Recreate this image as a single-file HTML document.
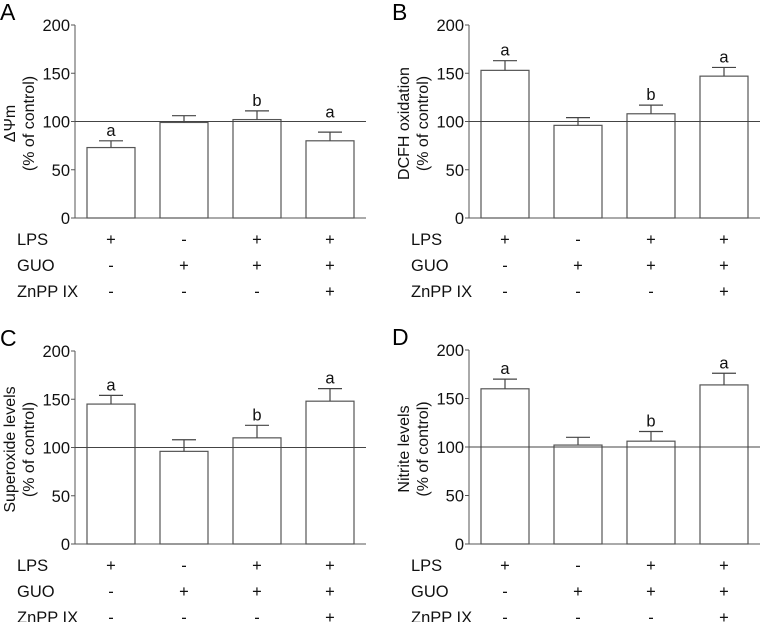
<!DOCTYPE html>
<html><head><meta charset="utf-8"><style>
body{margin:0;background:#fff}
svg{display:block;font-family:"Liberation Sans",Arial,sans-serif}
</style></head><body>
<svg id="chart" width="761" height="622" viewBox="0 0 761 622" xmlns="http://www.w3.org/2000/svg"></svg>
<script>
const panelLetters = ["A","B","C","D"];
const panelTitles = [["ΔΨm","(% of control)"],["DCFH oxidation","(% of control)"],["Superoxide levels","(% of control)"],["Nitrite levels","(% of control)"]];
const valuesA = [73, 99, 102, 80];
const errorsA = [7, 7, 9, 9];
const valuesB = [153, 96, 108, 147];
const errorsB = [10, 8, 9, 9];
const valuesC = [145, 96, 110, 148];
const errorsC = [9, 12, 13, 13];
const valuesD = [160, 102, 106, 164];
const errorsD = [10, 8, 10, 12];
const lettersAll = [["a","","b","a"],["a","","b","a"],["a","","b","a"],["a","","b","a"]];
const yTicks = [0, 50, 100, 150, 200];
const rowNames = ["LPS","GUO","ZnPP IX"];
const rowSigns = [["+","-","+","+"],["-","+","+","+"],["-","-","-","+"]];
const allValues = [valuesA, valuesB, valuesC, valuesD];
const allErrors = [errorsA, errorsB, errorsC, errorsD];

const svg = document.getElementById('chart');
const NS = 'http://www.w3.org/2000/svg';
function mk(tag, attrs, parent, text){
  const e = document.createElementNS(NS, tag);
  for (const k in attrs) e.setAttribute(k, attrs[k]);
  if (text !== undefined) e.textContent = text;
  parent.appendChild(e);
  return e;
}
const origins = [{ax:75,y0:218,y200:25},{ax:469,y0:218,y200:25},{ax:75,y0:544,y200:351},{ax:469,y0:544,y200:350}];

origins.forEach((o, p) => {
  const g = mk('g', {}, svg);
  
  
  const yS = v => o.y0 - (o.y0 - o.y200) * v / 200;
  const xC = i => o.ax + 36 + i * 73;
  const lt = mk('text', {x: o.ax - 75 + (p%2 ? -2 : 0), y: o.y200 - 5, 'font-size': 23}, g, panelLetters[p]);
  
  
  const ya = mk('line', {x1:o.ax, y1:o.y200, x2:o.ax, y2:o.y0, stroke:'#555', 'stroke-width':1}, g);
  
  
  yTicks.forEach(t => {
    mk('line', {x1:o.ax-4, y1:yS(t), x2:o.ax, y2:yS(t), stroke:'#555'}, g);
    const tl = mk('text', {x:o.ax-5, y:yS(t)+6, 'font-size':16.5, 'text-anchor':'end', fill:'#111'}, g, String(t));
    
    
  });
  const vals = allValues[p], errs = allErrors[p];
  vals.forEach((v, i) => {
    const x = xC(i) - 24;
    const b = mk('rect', {x:x, y:yS(v), width:48, height:o.y0 - yS(v), fill:'#fff', stroke:'#555', 'stroke-width':1.2}, g);
    
    
    const eb = mk('path', {d:'M'+xC(i)+' '+yS(v)+'V'+yS(v+errs[i])+'M'+(xC(i)-12)+' '+yS(v+errs[i])+'H'+(xC(i)+12), stroke:'#444', fill:'none', 'stroke-width':1.2}, g);
    
    
    if (lettersAll[p][i]) {
      let ly = yS(v+errs[i]) - 5;
      if (ly > yS(100) && ly - 9 < yS(100)) ly = yS(100) - 4;
      const sl = mk('text', {x:xC(i), y:ly, 'font-size':16.5, 'text-anchor':'middle', fill:'#111'}, g, lettersAll[p][i]);
      
      
    }
  });
  const xa = mk('line', {x1:o.ax, y1:o.y0, x2:o.ax+291, y2:o.y0, stroke:'#555'}, g);
  
  
  const rl = mk('line', {x1:o.ax, y1:yS(100), x2:o.ax+291, y2:yS(100), stroke:'#444'}, g);
  
  
  const tx1 = o.ax - 66, tx2 = o.ax - 47, ty = (o.y0 + o.y200) / 2 + 2;
  const t1 = mk('text', {x:0, y:0, 'font-size':16, 'text-anchor':'middle', transform:'translate('+(tx1+6)+','+ty+') rotate(-90)', fill:'#111'}, g, panelTitles[p][0]);
  
  
  const t2 = mk('text', {x:0, y:0, 'font-size':16, 'text-anchor':'middle', transform:'translate('+(tx2+6)+','+ty+') rotate(-90)', fill:'#111'}, g, panelTitles[p][1]);
  
  
  rowNames.forEach((rn, r) => {
    const ry = o.y0 + 27 + r * 26;
    const rt = mk('text', {x:o.ax - 58, y:ry, 'font-size':16.5, fill:'#111'}, g, rn);
    
    
    rowSigns[r].forEach((s, i) => {
      const st = mk('text', {x:xC(i), y:ry, 'font-size':16.5, 'text-anchor':'middle', fill:'#111'}, g, s);
      
      
    });
  });
});
</script>
</body></html>
